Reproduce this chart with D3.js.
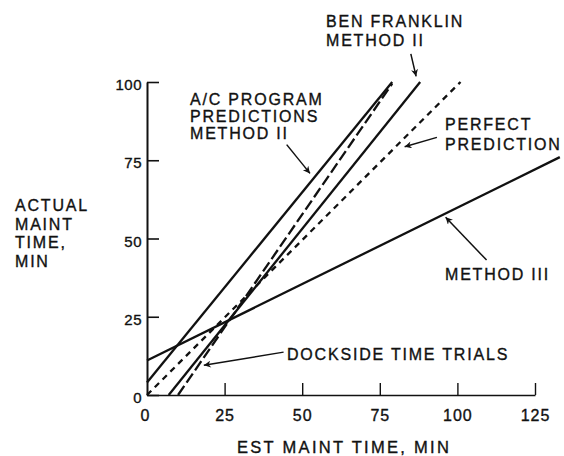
<!DOCTYPE html>
<html>
<head>
<meta charset="utf-8">
<script src="https://cdn.jsdelivr.net/npm/d3@7"></script>
<style>
  html, body { margin: 0; padding: 0; background: #fff; }
  svg { display: block; }
  text { font-family: "Liberation Sans", Arial, Helvetica, sans-serif; fill: #111; stroke: #111; stroke-width: 0.35px; }
</style>
</head>
<body>
<svg id="chart" width="564" height="456"></svg>
<script>
// ---- data (minutes) ----
const xTicks = [0, 25, 50, 75, 100, 125];
const yTicks = [0, 25, 50, 75, 100];

const methodIII       = [[0, 11], [133, 76]];   // solid
const perfectPred     = [[0, 0], [101, 100]];   // short dash
const benFranklinII   = [[7, 0], [88, 100]];    // solid
const acProgramII     = [[0, 4], [79, 100]];    // solid
const docksideTrials  = [[10, 0], [79, 99.5]];  // long dash

// annotation arrows: [from, tip] in data units
const arrowBen      = [[85, 109], [86.7, 101.8]];
const arrowAC       = [[45, 80], [52.5, 70.8]];
const arrowPerfect  = [[93.4, 82.3], [83, 79.3]];
const arrowMethod3  = [[109.4, 43.1], [96.2, 56.8]];
const arrowDockside = [[44, 13.7], [18.3, 9.5]];

const labelBen      = ["BEN FRANKLIN", "METHOD II"];
const labelAC       = ["A/C PROGRAM", "PREDICTIONS", "METHOD II"];
const labelPerfect  = ["PERFECT", "PREDICTION"];
const labelMethod3  = ["METHOD III"];
const labelDockside = ["DOCKSIDE TIME TRIALS"];
const yTitle        = ["ACTUAL", "MAINT", "TIME,", "MIN"];
const xTitle        = "EST MAINT TIME, MIN";

// ---- drawing ----
const svg = d3.select("#chart");
const x = d3.scaleLinear().domain([0, 125]).range([147, 535]);
const y = d3.scaleLinear().domain([0, 100]).range([395, 82]);

svg.append("defs").append("marker")
  .attr("id", "ah").attr("viewBox", "0 0 10 10")
  .attr("refX", 10).attr("refY", 5)
  .attr("markerWidth", 9).attr("markerHeight", 7)
  .attr("markerUnits", "userSpaceOnUse")
  .attr("orient", "auto")
  .append("path").attr("d", "M0,0 L10,5 L0,10 L3,5 Z").attr("fill", "#111");

// axes
const yAxis = d3.axisLeft(y).tickValues(yTicks).tickSize(-12).tickSizeOuter(0).tickPadding(5);
const gy = svg.append("g").attr("transform", `translate(${x(0)},0)`).call(yAxis);
gy.select(".domain").attr("stroke", "#111").attr("stroke-width", 2);
gy.selectAll(".tick line").attr("stroke", "#111").attr("stroke-width", 1.6);
gy.selectAll(".tick text").attr("font-size", 15).attr("letter-spacing", 0.5)
  .attr("dy", "0.5em").attr("fill", "#111");

const xAxis = d3.axisBottom(x).tickValues(xTicks).tickSize(-12).tickSizeOuter(0).tickPadding(15);
const gx = svg.append("g").attr("transform", `translate(0,${y(0)})`).call(xAxis);
gx.select(".domain").attr("stroke", "#111").attr("stroke-width", 1.6);
gx.selectAll(".tick line").attr("stroke", "#111").attr("stroke-width", 1.4)
  .filter(d => d === 0).remove();
gx.selectAll(".tick text").attr("font-size", 16).attr("letter-spacing", 1).attr("fill", "#111");
gx.selectAll(".tick text").filter(d => d === 0).attr("dx", "-2");

// lines
const line = d3.line().x(d => x(d[0])).y(d => y(d[1]));
const series = [
  { data: methodIII, dash: null },
  { data: perfectPred, dash: "6,5" },
  { data: benFranklinII, dash: null },
  { data: acProgramII, dash: null },
  { data: docksideTrials, dash: "11,4" }
];
svg.append("g").selectAll("path").data(series).join("path")
  .attr("d", d => line(d.data))
  .attr("fill", "none").attr("stroke", "#111").attr("stroke-width", 2.3)
  .attr("stroke-dasharray", d => d.dash);

// arrows
const arrows = [arrowBen, arrowAC, arrowPerfect, arrowMethod3, arrowDockside];
svg.append("g").selectAll("path").data(arrows).join("path")
  .attr("d", d => line(d))
  .attr("fill", "none").attr("stroke", "#111").attr("stroke-width", 1.5)
  .attr("marker-end", "url(#ah)");

// text blocks
function block(lines, px, py, pitch, size, ls) {
  const t = svg.append("text").attr("x", px).attr("y", py)
    .attr("font-size", size).attr("letter-spacing", ls);
  lines.forEach((s, i) => {
    t.append("tspan").attr("x", px).attr("y", py + i * pitch).text(s);
  });
}
block(labelBen, 326, 27, 19, 16, 1.8);
block(labelAC, 190, 105, 17, 16, 1.8);
block(labelPerfect, 445, 130, 20, 16, 1.8);
block(labelMethod3, 445, 280, 18, 16, 1.8);
block(labelDockside, 287, 360, 18, 16, 1.8);
block(yTitle, 15, 211, 18.5, 16, 1.8);
block([xTitle], 237, 453, 18, 16.5, 2.3);
</script>
</body>
</html>
